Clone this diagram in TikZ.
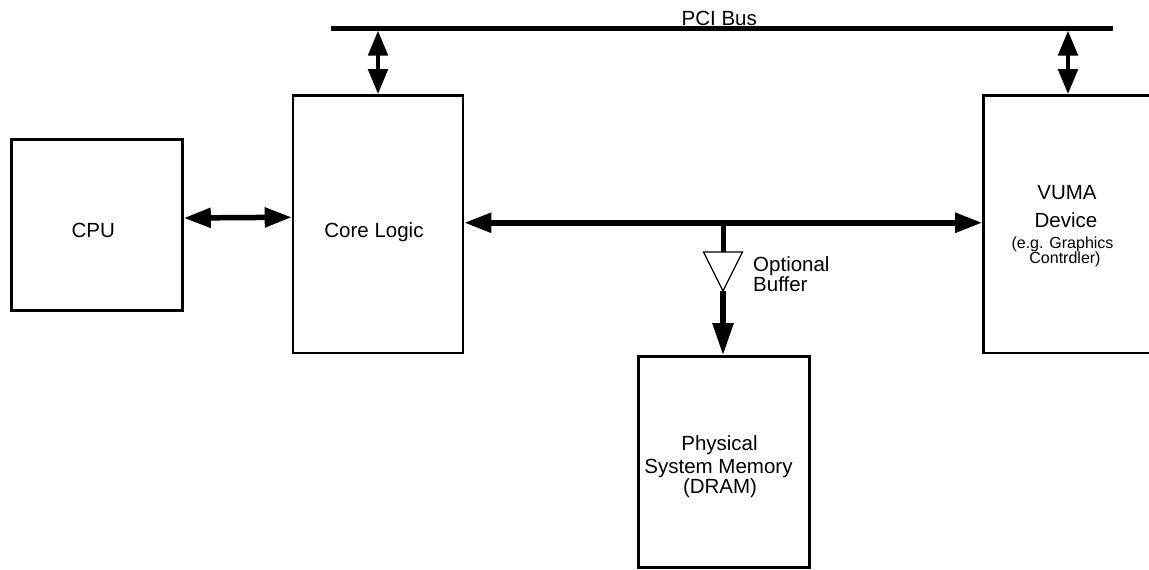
\documentclass[tikz,border=0pt]{standalone}
\usepackage{fontspec}
\setmainfont{Liberation Sans}
\usetikzlibrary{arrows.meta}

\tikzset{
  block/.style={draw, line width=2.6pt, inner sep=0pt, outer sep=auto},
  lbl/.style={inner sep=0pt, font=\fontsize{20.5}{22}\selectfont},
  sublbl/.style={inner sep=0pt, font=\fontsize{16}{14}\selectfont},
  heavy/.style={line width=5.5pt},
  twoway/.style={heavy, {Triangle[length=27pt,width=19pt]}-{Triangle[length=27pt,width=19pt]}},
  pcilink/.style={line width=4.8pt, {Triangle[length=25pt,width=19pt]}-{Triangle[length=25pt,width=19pt]}},
  oneway/.style={heavy, -{Triangle[length=32pt,width=20pt]}},
}

\begin{document}
\begin{tikzpicture}[x=1pt, y=-1pt]
\useasboundingbox (0,0) rectangle (1149,570);
\clip (0,0) rectangle (1149,570);

% PCI bus
\coordinate (pciL) at (331,28);
\coordinate (pciR) at (1113,28);
\coordinate (pcibase) at (0,30.5);
\draw[line width=5pt] (pciL) -- (pciR);
\node[lbl, anchor=base west] (pcitext) at (681.5,25) {PCI Bus};

% blocks (the VUMA device runs past the right edge)
\node[block, minimum width=171pt, minimum height=171pt] (cpu) at (97,225) {};
\node[block, minimum width=170pt, minimum height=257.5pt] (core) at (378,224.25) {};
\node[block, minimum width=180pt, minimum height=257.5pt] (vuma) at (1073.5,224.25) {};
\node[block, minimum width=171pt, minimum height=211pt] (mem) at (724,462) {};

% block texts
\node[lbl, anchor=base] (cputext) at (93.3,237) {CPU};
\node[lbl, anchor=base] (coretext) at (374,237) {Core Logic};
\node[lbl, anchor=base] (vumatext1) at (1067,199) {VUMA};
\node[lbl, anchor=base] (vumatext2) at (1066,227) {Device};
\node[sublbl, anchor=base] (vumatext3) at (1062.5,248.5) {(e.g. Graphics};
\node[sublbl, anchor=base] (vumatext4) at (1065,263.5) {Contrdler)};
\node[lbl, anchor=base] (memtext1) at (719.5,450) {Physical};
\node[lbl, anchor=base] (memtext2) at (718.5,473) {System Memory};
\node[lbl, anchor=base] (memtext3) at (720,493) {(DRAM)};

% CPU <-> core logic
\draw[twoway] ([yshift=7pt]cpu.east) -- ([yshift=7pt]core.west);

% memory bus between core logic and the VUMA device
\draw[twoway] ([yshift=1.5pt]core.east) -- ([yshift=1.5pt]vuma.west);

% PCI connections
\draw[pcilink] (core.north |- pcibase) -- (core.north);
\draw[pcilink] ([xshift=-5.5pt]vuma.north |- pcibase) -- ([xshift=-5.5pt]vuma.north);

% optional buffer down to system memory
\coordinate (tap) at (723,222.75);
\coordinate (bufin) at (723,252);
\coordinate (bufout) at (723,291);
\draw[line width=5pt] (tap) -- (bufin);
\draw[line width=1.2pt, line join=miter] (bufin) ++(-19.5,0) -- ++(39,0) -- (bufout) -- cycle;
\draw[oneway] (bufout) -- (bufout |- mem.north);
\node[lbl, anchor=base west] (buftext1) at (753,271) {Optional};
\node[lbl, anchor=base west] (buftext2) at (753,291) {Buffer};
\end{tikzpicture}
\end{document}
